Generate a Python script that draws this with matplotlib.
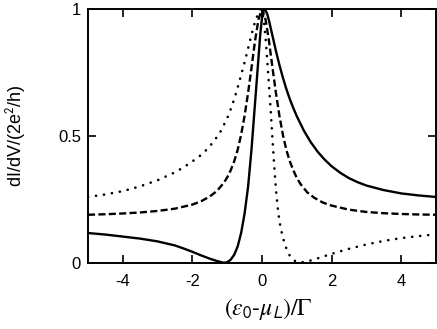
import matplotlib
matplotlib.use('Agg')
import matplotlib.pyplot as plt

plt.rcParams['font.family'] = ['Liberation Sans', 'DejaVu Sans']
plt.rcParams['mathtext.fontset'] = 'stix'
plt.rcParams['axes.unicode_minus'] = False

# solid curve
x_solid = [-5.0, -4.5, -4.0, -3.5, -3.0, -2.5, -2.25, -2.0, -1.75, -1.5, -1.3, -1.1, -1.0, -0.9,
           -0.8, -0.7, -0.6, -0.5, -0.4, -0.3, -0.2, -0.1, -0.05, 0.0, 0.05, 0.1, 0.15,
           0.2, 0.3, 0.4, 0.5, 0.6, 0.7, 0.8, 0.9, 1.0, 1.2, 1.4, 1.6, 1.8, 2.0, 2.25,
           2.5, 2.75, 3.0, 3.5, 4.0, 4.5, 5.0]
y_solid = [0.118, 0.112, 0.104, 0.096, 0.085, 0.069, 0.057, 0.044, 0.030, 0.017, 0.008, 0.001, 0.003, 0.013,
           0.032, 0.065, 0.118, 0.195, 0.30, 0.45, 0.63, 0.81, 0.90, 0.965, 1.0, 0.995, 0.98,
           0.955, 0.895, 0.835, 0.78, 0.73, 0.685, 0.645, 0.61, 0.578, 0.522, 0.476, 0.438, 0.407, 0.381, 0.355,
           0.334, 0.318, 0.305, 0.287, 0.274, 0.266, 0.26]

# dashed curve
x_dash = [-5.0, -4.5, -4.0, -3.5, -3.0, -2.5, -2.0, -1.75, -1.5, -1.3, -1.1, -1.0, -0.9,
          -0.8, -0.7, -0.6, -0.5, -0.4, -0.3, -0.2, -0.1, 0.0, 0.1, 0.2, 0.3, 0.4, 0.5,
          0.6, 0.7, 0.8, 0.9, 1.0, 1.1, 1.3, 1.5, 1.75, 2.0, 2.5, 3.0, 3.5, 4.0, 4.5, 5.0]
y_dash = [0.19, 0.192, 0.195, 0.199, 0.205, 0.214, 0.23, 0.243, 0.262, 0.283, 0.315, 0.337, 0.365,
          0.40, 0.445, 0.505, 0.58, 0.67, 0.77, 0.875, 0.96, 1.0, 0.96, 0.875, 0.77, 0.67, 0.58,
          0.505, 0.445, 0.40, 0.365, 0.335, 0.312, 0.278, 0.257, 0.238, 0.226, 0.21, 0.201, 0.196, 0.193, 0.191, 0.19]

# dotted curve
x_dot = [-5.0, -4.5, -4.0, -3.5, -3.0, -2.5, -2.25, -2.0, -1.8, -1.6, -1.4, -1.2, -1.0,
         -0.9, -0.8, -0.7, -0.6, -0.5, -0.4, -0.3, -0.2, -0.1, -0.04, 0.0, 0.05, 0.1, 0.15,
         0.2, 0.25, 0.3, 0.35, 0.4, 0.45, 0.5, 0.55, 0.6, 0.7, 0.8, 0.9, 1.0, 1.1, 1.3,
         1.5, 1.75, 2.0, 2.5, 3.0, 3.5, 4.0, 4.5, 5.0]
y_dot = [0.26, 0.27, 0.283, 0.302, 0.326, 0.357, 0.377, 0.40, 0.42, 0.445, 0.476, 0.515, 0.57,
         0.605, 0.645, 0.69, 0.74, 0.79, 0.845, 0.90, 0.95, 0.985, 1.0, 0.995, 0.96, 0.89, 0.80,
         0.70, 0.60, 0.49, 0.385, 0.29, 0.22, 0.165, 0.13, 0.10, 0.057, 0.028, 0.012, 0.004, 0.002, 0.006,
         0.014, 0.025, 0.036, 0.056, 0.073, 0.087, 0.098, 0.106, 0.113]

xticks = [-4, -2, 0, 2, 4]
yticks = [0, 0.5, 1]
ytick_labels = ['0', '0.5', '1']

fig = plt.figure(figsize=(4.37, 3.29), dpi=100)
ax = fig.add_axes([0.2014, 0.2006, 0.7963, 0.772])

ax.plot(x_solid, y_solid, color='black', lw=1.7, ls='-')
ax.plot(x_dash, y_dash, color='black', lw=1.7, ls=(0, (3.0, 1.4)))
ax.plot(x_dot, y_dot, color='black', lw=1.9, ls=(0, (0.05, 3.0)), dash_capstyle='round')

ax.set_xlim(-5, 5)
ax.set_ylim(0, 1)
ax.set_xticks(xticks)
ax.set_yticks(yticks)
ax.set_yticklabels(ytick_labels)
ax.tick_params(direction='in', length=6, width=1.2, top=True, right=True, labelsize=12)
ax.tick_params(axis='x', pad=8)
ax.tick_params(axis='y', pad=5)
for s in ax.spines.values():
    s.set_linewidth(1.4)

ax.set_xlabel(r'$(\varepsilon_{\mathsf{0}}$-$\mu_{\mathsf{L}})/\Gamma$', fontsize=17)
ax.xaxis.set_label_coords(0.519, -0.13)
ax.set_ylabel(r'dI/dV/(2e$^{\mathsf{2}}$/h)', fontsize=13, va='center')
ax.yaxis.set_label_coords(-0.207, 0.5)

fig.savefig('out.png', dpi=100)
